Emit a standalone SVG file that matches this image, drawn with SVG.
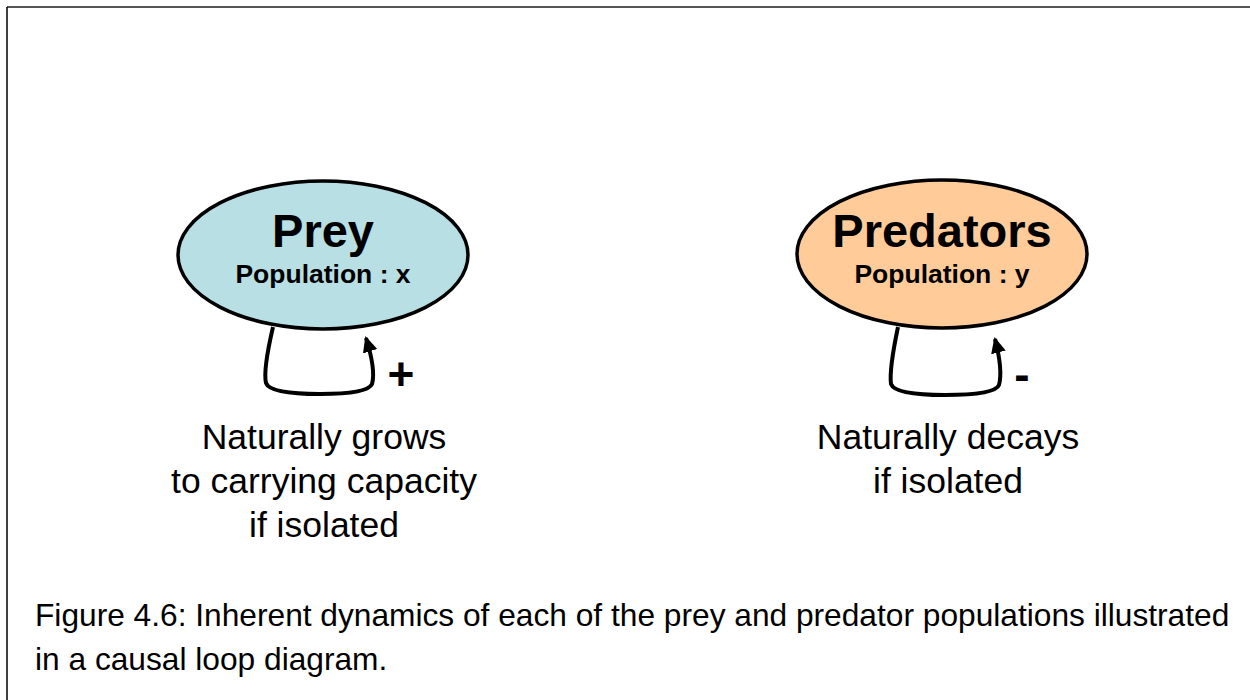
<svg xmlns="http://www.w3.org/2000/svg" width="1250" height="700" viewBox="0 0 1250 700">
<style>
.node{stroke:#000;stroke-width:3.5}
.title{font-family:"Liberation Sans",Arial,sans-serif;font-weight:bold;font-size:47px;text-anchor:middle;fill:#000}
.sub{font-family:"Liberation Sans",Arial,sans-serif;font-weight:bold;font-size:26.5px;text-anchor:middle;fill:#000}
.lbl{font-family:"Liberation Sans",Arial,sans-serif;font-size:35.5px;text-anchor:middle;fill:#000}
.sign{font-family:"Liberation Sans",Arial,sans-serif;font-weight:bold;font-size:46px;text-anchor:middle;fill:#000}
.cap{font-family:"Liberation Sans",Arial,sans-serif;font-size:31.7px;fill:#000}
.loop{fill:none;stroke:#000;stroke-width:4;marker-end:url(#arr)}
</style>
<defs>
<marker id="arr" markerUnits="userSpaceOnUse" markerWidth="16" markerHeight="16" refX="13" refY="7" orient="auto" viewBox="0 0 15 14">
<path d="M0,0 L15,7 L0,14 Z" fill="#000"/>
</marker>
</defs>
<rect x="0" y="0" width="1250" height="700" fill="#fff"/>
<line x1="7" y1="7" x2="1250" y2="7" stroke="#555" stroke-width="2"/>
<line x1="7" y1="7" x2="7" y2="700" stroke="#000" stroke-width="1.5"/>
<g id="connectors">
<path class="loop" d="M273,327 Q263,370 266,383 Q270,394 320,394 Q368,394 372,384 Q376,370 366,338"/>
<path class="loop" d="M898,327 Q889,370 891,384 Q895,395 945,395 Q995,395 999,385 Q1003,370 995,339"/>
</g>
<g id="prey">
<ellipse class="node" cx="323" cy="255" rx="145" ry="74" fill="#B8DFE3"/>
<text class="title" x="323" y="247">Prey</text>
<text class="sub" x="323" y="283">Population : x</text>
</g>
<g id="predators">
<ellipse class="node" cx="942" cy="254" rx="145" ry="74" fill="#FFCC99"/>
<text class="title" x="942" y="247">Predators</text>
<text class="sub" x="942" y="283">Population : y</text>
</g>
<g id="prey-sign"><text class="sign" x="401" y="390">+</text></g>
<g id="pred-sign"><text class="sign" x="1022" y="390">-</text></g>
<g id="prey-label">
<text class="lbl" x="324" y="449">Naturally grows</text>
<text class="lbl" x="324" y="493">to carrying capacity</text>
<text class="lbl" x="324" y="537">if isolated</text>
</g>
<g id="pred-label">
<text class="lbl" x="948" y="449">Naturally decays</text>
<text class="lbl" x="948" y="493">if isolated</text>
</g>
<g id="caption">
<text class="cap" x="35" y="626">Figure 4.6: Inherent dynamics of each of the prey and predator populations illustrated</text>
<text class="cap" x="35" y="670">in a causal loop diagram.</text>
</g>
</svg>
